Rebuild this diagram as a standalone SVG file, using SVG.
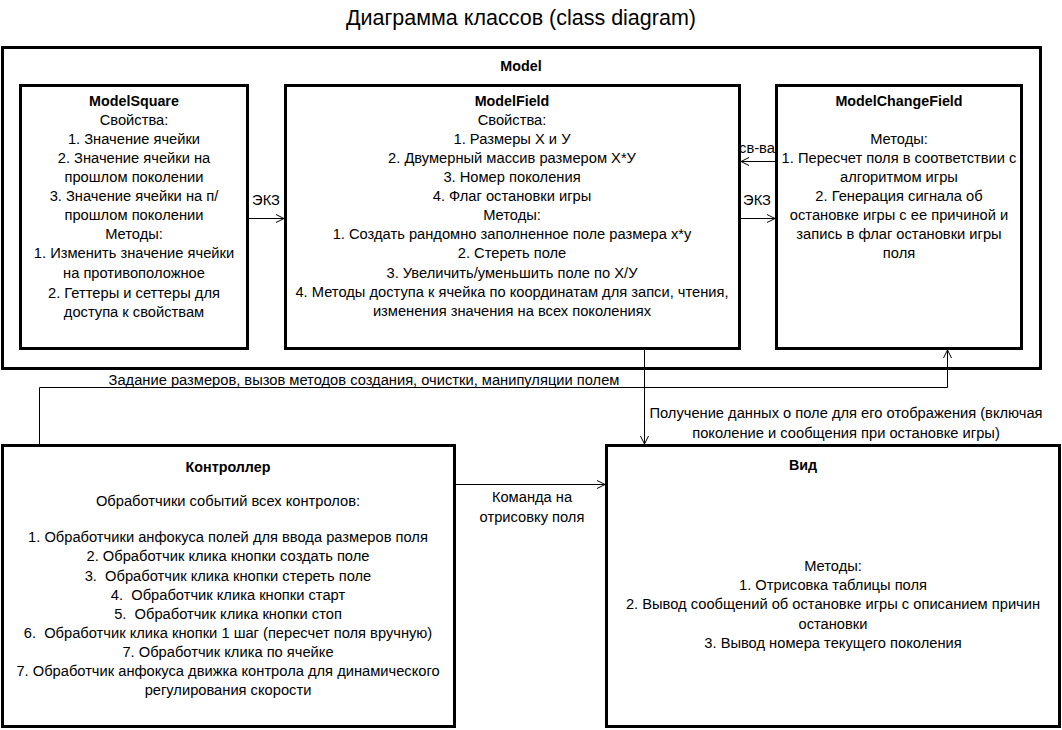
<svg xmlns="http://www.w3.org/2000/svg" width="1062" height="730" viewBox="0 0 1062 730">
<style>
text{font-family:"Liberation Sans",Arial,sans-serif;font-size:14.7px;fill:#000;text-anchor:middle}
.t{font-size:21.5px}
.b{font-weight:bold;font-size:14.3px}
.pre{white-space:pre}
.box{fill:#fff;stroke:#000;stroke-width:3}
.c{fill:none;stroke:#000;stroke-width:1}
</style>
<defs>
<marker id="arr" markerWidth="10" markerHeight="10" refX="9" refY="5" orient="auto" markerUnits="userSpaceOnUse">
<path d="M1,1 L9,5 L1,9" fill="none" stroke="#000" stroke-width="1"/>
</marker>
</defs>
<rect width="1062" height="730" fill="#fff"/>
<text class="t" x="521" y="25">Диаграмма классов (class diagram)</text>

<g id="model">
<rect class="box" x="2.5" y="47.5" width="1038" height="321"/>
<text class="b" x="521" y="71">Model</text>
</g>

<g id="modelSquare">
<rect class="box" x="20.5" y="85.5" width="227" height="263"/>
<text class="b" x="134" y="106">ModelSquare</text>
<text x="134" y="125">Свойства:</text>
<text x="134" y="144">1. Значение ячейки</text>
<text x="134" y="163">2. Значение ячейки на</text>
<text x="134" y="182">прошлом поколении</text>
<text x="134" y="201">3. Значение ячейки на п/</text>
<text x="134" y="220">прошлом поколении</text>
<text x="134" y="239">Методы:</text>
<text x="134" y="258">1. Изменить значение ячейки</text>
<text x="134" y="278">на противоположное</text>
<text x="134" y="298">2. Геттеры и сеттеры для</text>
<text x="134" y="317">доступа к свойствам</text>
</g>

<g id="modelField">
<rect class="box" x="285.5" y="85.5" width="454" height="263"/>
<text class="b" x="512" y="106">ModelField</text>
<text x="512" y="125">Свойства:</text>
<text x="512" y="144">1. Размеры X и У</text>
<text x="512" y="163">2. Двумерный массив размером X*У</text>
<text x="512" y="182">3. Номер поколения</text>
<text x="512" y="201">4. Флаг остановки игры</text>
<text x="512" y="220">Методы:</text>
<text x="512" y="239">1. Создать рандомно заполненное поле размера x*y</text>
<text x="512" y="258">2. Стереть поле</text>
<text x="512" y="278">3. Увеличить/уменьшить поле по X/У</text>
<text x="512" y="297">4. Методы доступа к ячейка по координатам для запси, чтения,</text>
<text x="512" y="316">изменения значения на всех поколениях</text>
</g>

<g id="modelChangeField">
<rect class="box" x="776.5" y="85.5" width="245" height="263"/>
<text class="b" x="899" y="106">ModelChangeField</text>
<text x="899" y="144">Методы:</text>
<text x="899" y="163">1. Пересчет поля в соответствии с</text>
<text x="899" y="182">алгоритмом игры</text>
<text x="899" y="201">2. Генерация сигнала об</text>
<text x="899" y="220">остановке игры с ее причиной и</text>
<text x="899" y="239">запись в флаг остановки игры</text>
<text x="899" y="258">поля</text>
</g>

<g id="controller">
<rect class="box" x="2.5" y="445.5" width="452" height="281"/>
<text class="b" x="228" y="472">Контроллер</text>
<text x="228" y="506">Обработчики событий всех контролов:</text>
<text x="228" y="542">1. Обработчики анфокуса полей для ввода размеров поля</text>
<text x="228" y="561">2. Обработчик клика кнопки создать поле</text>
<text class="pre" x="228" y="581">3.  Обработчик клика кнопки стереть поле</text>
<text class="pre" x="228" y="600">4.  Обработчик клика кнопки старт</text>
<text class="pre" x="228" y="619">5.  Обработчик клика кнопки стоп</text>
<text class="pre" x="228" y="638">6.  Обработчик клика кнопки 1 шаг (пересчет поля вручную)</text>
<text x="228" y="657">7. Обработчик клика по ячейке</text>
<text x="228" y="676">7. Обработчик анфокуса движка контрола для динамического</text>
<text x="228" y="695">регулирования скорости</text>
</g>

<g id="view">
<rect class="box" x="606.5" y="445.5" width="453" height="281"/>
<text class="b" x="803" y="470">Вид</text>
<text x="833" y="571">Методы:</text>
<text x="833" y="590">1. Отрисовка таблицы поля</text>
<text x="833" y="609">2. Вывод сообщений об остановке игры с описанием причин</text>
<text x="833" y="629">остановки</text>
<text x="833" y="648">3. Вывод номера текущего поколения</text>
</g>

<g id="connectors">
<path class="c" d="M249,218.5 H284" marker-end="url(#arr)"/>
<text x="266" y="205">ЭКЗ</text>
<path class="c" d="M775,161.5 H741" marker-end="url(#arr)"/>
<text x="757" y="153">св-ва</text>
<path class="c" d="M741,218.5 H775" marker-end="url(#arr)"/>
<text x="757" y="205">ЭКЗ</text>
<path class="c" d="M644.5,350 V444" marker-end="url(#arr)"/>
<text x="846" y="418">Получение данных о поле для его отображения (включая</text>
<text x="846" y="438">поколение и сообщения при остановке игры)</text>
<path class="c" d="M39.5,444 V387.5 H947.5 V350" marker-end="url(#arr)"/>
<text x="364" y="385">Задание размеров, вызов методов создания, очистки, манипуляции полем</text>
<path class="c" d="M456,484.5 H605" marker-end="url(#arr)"/>
<text x="532" y="502">Команда на</text>
<text x="532" y="522">отрисовку поля</text>
</g>
</svg>
